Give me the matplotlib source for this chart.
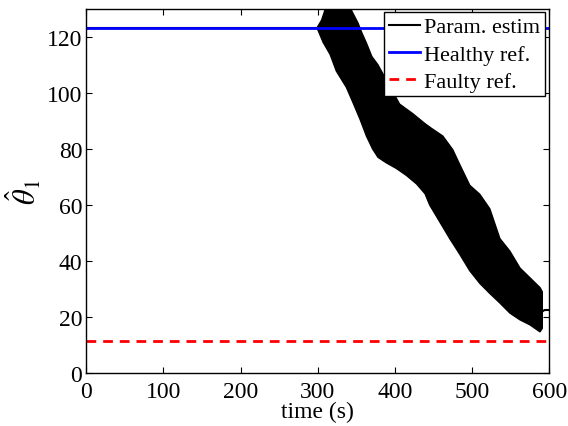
import matplotlib
matplotlib.use("Agg")
import matplotlib.pyplot as plt
import numpy as np

plt.rcParams['font.family'] = ['Liberation Serif', 'DejaVu Serif']
plt.rcParams['mathtext.fontset'] = 'stix'

# flat part of the estimate (before the fault)
t_flat = [0, 100, 200, 299]
theta_flat = [123.3, 123.3, 123.3, 123.3]

# oscillating part: upper / lower envelope
t_up = [299, 305, 311, 322, 341, 345, 352, 357, 363, 370, 378, 392, 406, 423, 439,
        447, 462, 475, 484, 497, 510, 523, 536, 549, 562, 575, 588, 591]
v_up = [123.2, 126, 131, 134, 131, 128.7, 125, 121.5, 117.8, 113, 110, 103, 96, 92.6, 89,
        87.4, 84.6, 79.7, 74.4, 67, 63.8, 58.6, 48, 43.5, 37.5, 34, 30.5, 29]
t_lo = [299, 307, 316, 324, 337, 346, 355, 363, 371, 378, 389, 402, 415, 428, 439,
        445, 458, 471, 484, 497, 510, 523, 536, 549, 562, 575, 588, 591]
v_lo = [123.2, 118, 113.7, 107.8, 102, 96.3, 90.4, 84.6, 80, 77, 75, 73, 70.5, 67.5, 64,
        60, 54, 48, 42.4, 36.5, 32, 28.4, 25, 21.4, 19, 17.2, 14.7, 16]

# settled tail
t_tail = [591, 594, 600]
theta_tail = [22, 22.5, 22.5]

healthy_ref = 123.2
faulty_ref = 11.5
t_range = [0, 600]

fig = plt.figure(figsize=(5.68, 4.27), dpi=100)
ax = fig.add_axes([0.152, 0.124, 0.815, 0.853])

ax.plot(t_flat, theta_flat, color='k', lw=1.5, label='Param. estim')
ax.fill(np.r_[t_up, t_lo[::-1]], np.r_[v_up, v_lo[::-1]], color='k', lw=1.0)
ax.plot(t_tail, theta_tail, color='k', lw=1.5)
ax.plot(t_range, [healthy_ref, healthy_ref], color='b', lw=2, label='Healthy ref.')
ax.plot(t_range, [faulty_ref, faulty_ref], color='r', lw=2, ls=(0, (3.5, 2.5)), label='Faulty ref.')

ax.set_xlim(0, 600)
ax.set_ylim(0, 130)
ax.set_xticks(range(0, 601, 100))
ax.set_yticks(range(0, 121, 20))
ax.tick_params(direction='in', top=True, right=True, labelsize=17, length=4, width=0.8)
ax.tick_params(axis='x', pad=6)
ax.tick_params(axis='y', pad=3)
for s in ax.spines.values():
    s.set_linewidth(1.0)

ax.set_xlabel('time (s)', fontsize=17, labelpad=-1)
ax.set_ylabel(r'$\hat{\theta}_1$', fontsize=22, labelpad=2)

leg = ax.legend(loc='upper right', bbox_to_anchor=(0.99, 0.99), fontsize=16,
                frameon=True, fancybox=False, framealpha=1, edgecolor='k',
                handlelength=1.4, handletextpad=0.2, labelspacing=0.3,
                borderpad=0.2, borderaxespad=0.0)
leg.get_frame().set_linewidth(1.0)

fig.savefig('out.png', dpi=100)
